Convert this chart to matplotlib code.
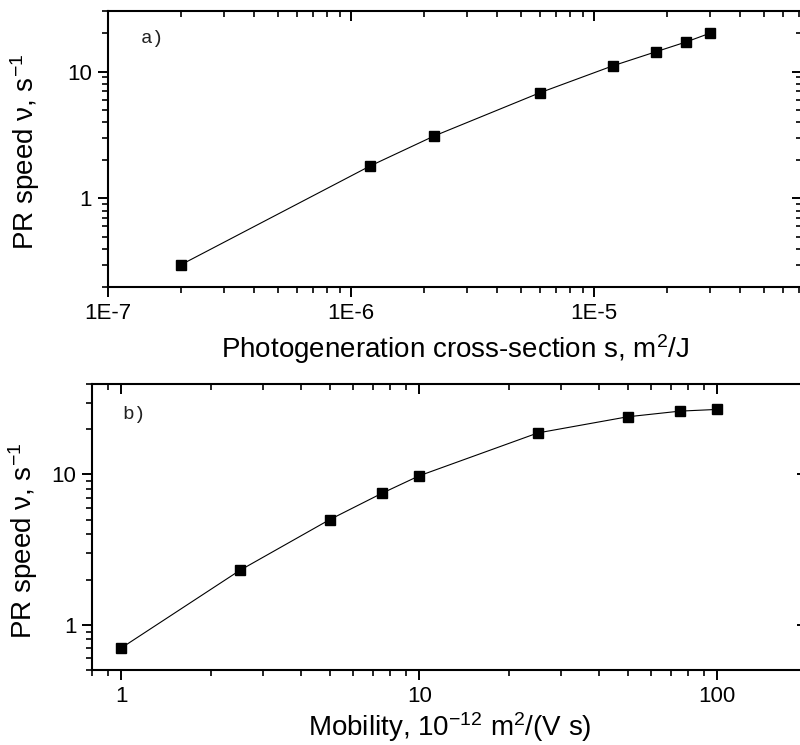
"""PR speed vs photogeneration cross-section and mobility (log-log)."""

import matplotlib
matplotlib.use("Agg")
import matplotlib.pyplot as plt
from matplotlib.ticker import LogLocator, FixedLocator, FixedFormatter, NullFormatter

plt.rcParams["font.family"] = ["Liberation Sans", "DejaVu Sans"]
plt.rcParams["mathtext.fontset"] = "custom"
plt.rcParams["mathtext.rm"] = "Liberation Sans"
plt.rcParams["mathtext.it"] = "Liberation Sans:italic"

# (a) speed vs photogeneration cross-section
cross_section = [2e-7, 1.2e-6, 2.2e-6, 6e-6, 1.2e-5, 1.8e-5, 2.4e-5, 3e-5]
speed_a = [0.30, 1.8, 3.1, 6.8, 11.1, 14.3, 17.1, 20.0]

# (b) speed vs mobility (1e-12 m^2/(V s))
mobility = [1, 2.5, 5, 7.5, 10, 25, 50, 75, 100]
speed_b = [0.70, 2.3, 5.0, 7.5, 9.8, 18.9, 24.2, 26.4, 27.1]

W, H = 800, 745
fig = plt.figure(figsize=(W / 100, H / 100), dpi=100)

ax_a = fig.add_axes([108 / W, 1 - 287 / H, (802 - 108) / W, (287 - 11) / H])
ax_b = fig.add_axes([92.3 / W, 1 - 670 / H, (807 - 92.3) / W, (670 - 384) / H])

TICK_FS = 16
LABEL_FS = 20
YLABEL = r"PR speed ν, s$^{\mathregular{-1}}$"


def style(ax):
    ax.set_xscale("log")
    ax.set_yscale("log")
    for sp in ax.spines.values():
        sp.set_linewidth(1.5)
    ax.tick_params(which="major", length=7.5, width=1.4, labelsize=TICK_FS, pad=4)
    ax.tick_params(which="minor", length=4.5, width=1.2)
    ax.tick_params(axis="both", which="both", direction="out", top=False, right=False)
    # inward ticks on top and right
    sec_x = ax.secondary_xaxis("top")
    sec_y = ax.secondary_yaxis("right")
    return sec_x, sec_y


def mirror(ax, sec_x, sec_y):
    for sec, axis in ((sec_x, ax.xaxis), (sec_y, ax.yaxis)):
        sec.spines[:].set_visible(False)
        target = sec.xaxis if sec is sec_x else sec.yaxis
        target.set_major_locator(axis.get_major_locator())
        target.set_minor_locator(axis.get_minor_locator())
        target.set_major_formatter(NullFormatter())
        target.set_minor_formatter(NullFormatter())
        sec.tick_params(which="major", direction="in", length=7.5, width=1.4)
        sec.tick_params(which="minor", direction="in", length=4.5, width=1.2)


# --- (a) ---
sa_x, sa_y = style(ax_a)
ax_a.plot(cross_section, speed_a, "-", color="black", lw=0.8,
          marker="s", ms=7, mfc="black", mec="black")
ax_a.set_xlim(1e-7, 7.2e-5)
ax_a.set_ylim(0.2, 30)
ax_a.xaxis.set_major_locator(FixedLocator([1e-7, 1e-6, 1e-5]))
ax_a.xaxis.set_major_formatter(FixedFormatter(["1E-7", "1E-6", "1E-5"]))
ax_a.xaxis.set_minor_locator(LogLocator(base=10, subs=range(2, 10), numticks=20))
ax_a.xaxis.set_minor_formatter(NullFormatter())
ax_a.yaxis.set_major_locator(FixedLocator([1, 10]))
ax_a.yaxis.set_major_formatter(FixedFormatter(["1", "10"]))
ax_a.yaxis.set_minor_locator(LogLocator(base=10, subs=range(2, 10), numticks=20))
ax_a.yaxis.set_minor_formatter(NullFormatter())
mirror(ax_a, sa_x, sa_y)
ax_a.set_xlabel(r"Photogeneration cross-section s, m$^{\mathregular{2}}$/J", fontsize=LABEL_FS)
ax_a.set_ylabel(YLABEL, fontsize=LABEL_FS)
ax_a.xaxis.set_label_coords(0.5, -0.165)
ax_a.yaxis.set_label_coords(-0.095, 0.49)
ax_a.text(0.047, 0.899, "a)", transform=ax_a.transAxes, fontsize=14,
          family="Liberation Mono", va="center", ha="left", color="#222222")

# --- (b) ---
sb_x, sb_y = style(ax_b)
ax_b.plot(mobility, speed_b, "-", color="black", lw=0.8,
          marker="s", ms=7, mfc="black", mec="black")
ax_b.set_xlim(0.8, 200)
ax_b.set_ylim(0.5, 40)
ax_b.xaxis.set_major_locator(FixedLocator([1, 10, 100]))
ax_b.xaxis.set_major_formatter(FixedFormatter(["1", "10", "100"]))
ax_b.xaxis.set_minor_locator(LogLocator(base=10, subs=range(2, 10), numticks=20))
ax_b.xaxis.set_minor_formatter(NullFormatter())
ax_b.yaxis.set_major_locator(FixedLocator([1, 10]))
ax_b.yaxis.set_major_formatter(FixedFormatter(["1", "10"]))
ax_b.yaxis.set_minor_locator(LogLocator(base=10, subs=range(2, 10), numticks=20))
ax_b.yaxis.set_minor_formatter(NullFormatter())
mirror(ax_b, sb_x, sb_y)
ax_b.set_xlabel(r"Mobility, 10$^{\mathregular{-12}}$ m$^{\mathregular{2}}$/(V s)", fontsize=LABEL_FS)
ax_b.set_ylabel(YLABEL, fontsize=LABEL_FS)
ax_b.xaxis.set_label_coords(0.5, -0.14)
ax_b.yaxis.set_label_coords(-0.073, 0.45)
ax_b.text(0.042, 0.892, "b)", transform=ax_b.transAxes, fontsize=14,
          family="Liberation Mono", va="center", ha="left", color="#222222")

fig.savefig("out.png", dpi=100)
